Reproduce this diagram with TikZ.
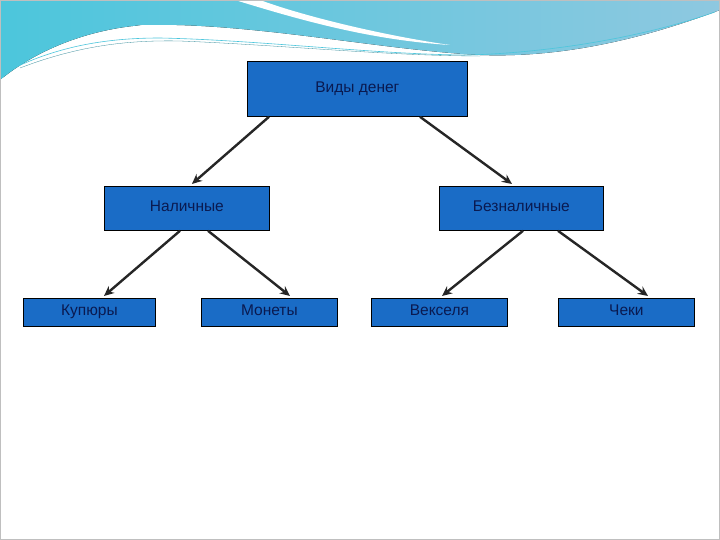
\documentclass[tikz,border=0pt]{standalone}
\usepackage{fontspec}
\setmainfont{Liberation Sans}
\usetikzlibrary{calc,arrows.meta}
\definecolor{boxblue}{HTML}{1A6CC6}
\definecolor{txt}{HTML}{0A1A50}
\definecolor{wave1}{HTML}{8EC8E0}
\definecolor{wave2}{HTML}{4CC6DC}
\tikzset{
 bx/.style={draw=black,line width=0.8pt,fill=boxblue,text=txt,font=\fontsize{15.5}{17}\selectfont,inner sep=0pt,text height=1.5ex,text depth=0.3ex,anchor=north west},
 ar/.style={draw=black!85,line width=2.4pt,-{Stealth[length=10pt,width=9pt]}}
}
\begin{document}
\begin{tikzpicture}[x=1pt,y=-1pt]
\useasboundingbox (0,0) rectangle (720,540);
\fill[white] (0,0) rectangle (720,540);
% header wave
\fill[left color=wave2,right color=wave1] (0,0) -- (720,0) -- (720,10) .. controls (640,40) and (560,58) .. (480,55) .. controls (380,50) and (250,22) .. (143,25) .. controls (80,30) and (30,55) .. (0,80) -- cycle;
\fill[white] (235,0) .. controls (300,20) and (370,40) .. (450,45) .. controls (380,35) and (300,15) .. (260,0) -- cycle;
\fill[white] (0,80) .. controls (40,55) and (90,35) .. (143,25) .. controls (250,28) and (380,52) .. (480,57) .. controls (560,58) and (650,42) .. (720,28) -- (720,40) .. controls (640,55) and (560,62) .. (480,60) .. controls (380,58) and (250,38) .. (143,40) .. controls (90,47) and (40,65) .. (0,80) -- cycle;
\draw[wave2,line width=0.6pt] (10,70) .. controls (60,45) and (110,38) .. (160,38) .. controls (260,40) and (380,55) .. (470,55) .. controls (560,52) and (650,35) .. (715,12);
\draw[wave2!70!black,line width=0.3pt] (20,68) .. controls (80,45) and (130,40) .. (180,41) .. controls (280,45) and (390,56) .. (480,56);
\draw[gray!50,line width=0.5pt] (0.5,0.5) rectangle (719.5,539.5);
% nodes
\node[bx,minimum width=220pt,minimum height=55pt] (top) at (247,61) {Виды денег};
\node[bx,minimum width=165pt,minimum height=44pt] (cash) at (104,186) {Наличные};
\node[bx,minimum width=164pt,minimum height=44pt] (noncash) at (439,186) {Безналичные};
\node[bx,minimum width=132pt,minimum height=28pt] (kup) at (23,298) {Купюры};
\node[bx,minimum width=136pt,minimum height=28pt] (mon) at (201,298) {Монеты};
\node[bx,minimum width=136pt,minimum height=28pt] (vek) at (371,298) {Векселя};
\node[bx,minimum width=136pt,minimum height=28pt] (chek) at (558,298) {Чеки};
% arrows
\draw[ar] ($(top.south west)+(22,0)$) -- ($(cash.north)+(5,-2)$);
\draw[ar] ($(top.south west)+(173,0)$) -- ($(noncash.north west)+(73,-2)$);
\draw[ar] ($(cash.south west)+(76,0)$) -- ($(kup.north west)+(81,-2)$);
\draw[ar] ($(cash.south west)+(104,0)$) -- ($(mon.north west)+(89,-2)$);
\draw[ar] ($(noncash.south west)+(84,0)$) -- ($(vek.north west)+(71,-2)$);
\draw[ar] ($(noncash.south west)+(119,0)$) -- ($(chek.north west)+(90,-2)$);
\end{tikzpicture}
\end{document}
